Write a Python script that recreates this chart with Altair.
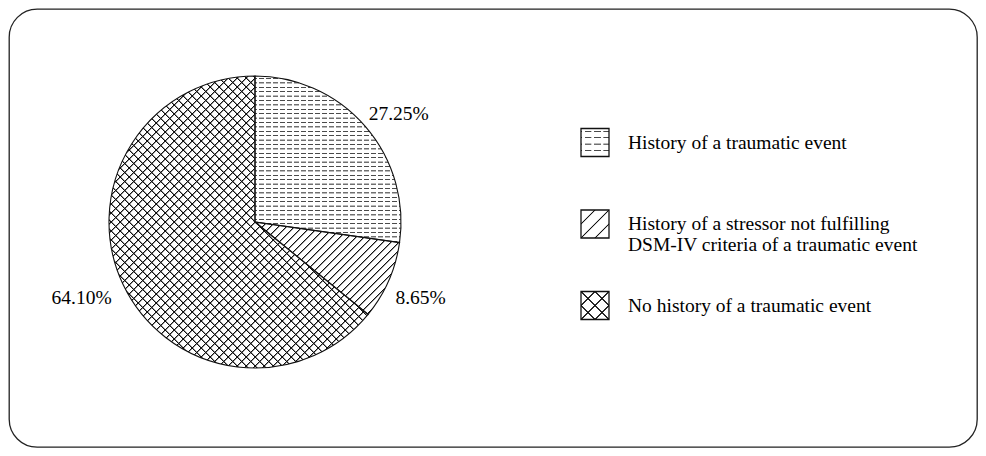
import math
import altair as alt
import pandas as pd

# ---------------- data ----------------
categories = [
    "History of a traumatic event",
    "History of a stressor not fulfilling\nDSM-IV criteria of a traumatic event",
    "No history of a traumatic event",
]
shares = [27.25, 8.65, 64.10]
share_labels = ["27.25%", "8.65%", "64.10%"]

data = pd.DataFrame({"category": categories, "share": shares, "label": share_labels})

# ---------------- layout / style ----------------
W, H = 968, 438
CX, CY, R = 246, 213, 146
LABEL_R = 183
LABEL_NUDGE = [(5.5, 11.5), (-2, 3), (-8, -2)]
SWATCH = 28
SW_X, TXT_X = 586, 619
ROW_RANGE = [133.5, 296.5]
FONT = "Liberation Serif"
FS = 19.5
INK = "#111111"
CLEAR = "rgba(0,0,0,0)"
WHITE = "#ffffff"
WHITE_CLEAR = "rgba(255,255,255,0)"
SQ2 = math.sqrt(2)


def stripe_stops(total, period, offset, width, color, clear, soft=0.5):
    stops = [(0.0, clear)]
    c = offset
    while c < total:
        a0 = c - width / 2 - soft
        b0 = c + width / 2 + soft
        if a0 >= 0 and b0 <= total:
            for p, col in ((a0, clear), (c - width / 2, color), (c + width / 2, color), (b0, clear)):
                stops.append((p / total, col))
        c += period
    stops.append((1.0, clear))
    return [{"offset": round(o, 5), "color": col} for o, col in stops]


def grad(x1, y1, x2, y2, stops):
    return {"gradient": "linear", "x1": x1, "y1": y1, "x2": x2, "y2": y2, "stops": stops}


def hlines(w, h, period, offset, width, color=INK, clear=CLEAR, soft=0.5):
    return grad(0, 0, 0, 1, stripe_stops(h, period, offset, width, color, clear, soft))


def vlines(w, h, period, offset, width, color=WHITE, clear=WHITE_CLEAR, soft=0.3):
    return grad(0, 0, 1, 0, stripe_stops(w, period, offset, width, color, clear, soft))


def slash(w, h, period, offset, width, color=INK, clear=CLEAR, soft=0.5):
    dx, dy = 1 / h, 1 / w
    k = (dx + dy) / (dx * dx + dy * dy)
    return grad(0, 0, k * dx, k * dy,
                stripe_stops((w + h) / SQ2, period, offset, width, color, clear, soft))


def backslash(w, h, period, offset, width, color=INK, clear=CLEAR, soft=0.5):
    dx, dy = 1 / h, -1 / w
    k = (dx - dy) / (dx * dx + dy * dy)
    return grad(0, 1, k * dx, 1 + k * dy,
                stripe_stops((w + h) / SQ2, period, offset, width, color, clear, soft))


def arc_bbox(a0, a1, r):
    pts = [(0.0, 0.0)]
    for a in [a0, a1] + [q for q in (90, 180, 270) if a0 < q < a1]:
        t = math.radians(a)
        pts.append((r * math.sin(t), -r * math.cos(t)))
    if a0 <= 0 or a1 >= 360:
        pts.append((0.0, -r))
    xs, ys = zip(*pts)
    return max(xs) - min(xs), max(ys) - min(ys)


total = sum(shares)
boxes = []
acc = 0.0
for s in shares:
    boxes.append(arc_bbox(acc / total * 360, (acc + s) / total * 360, R))
    acc += s

(wa, ha), (wb, hb), (wc, hc) = boxes

base = alt.Chart(data).transform_window(idx="row_number()")

pie_enc = dict(
    theta=alt.Theta("share:Q", stack=True),
    order=alt.Order("idx:Q"),
    x=alt.value(CX),
    y=alt.value(CY),
)


def pie_fill(i, g):
    return alt.when(alt.datum.idx == i).then(alt.value(g)).otherwise(alt.value("transparent"))


def pie_label(i, dx, dy):
    return base.mark_text(radius=LABEL_R, dx=dx, dy=dy, font=FONT, fontSize=FS,
                          align="center", baseline="middle", color="#000000").encode(
        text="label:N",
        opacity=alt.when(alt.datum.idx == i).then(alt.value(1)).otherwise(alt.value(0)),
        **pie_enc)


pie_layers = [
    base.mark_arc(radius=R).encode(fill=pie_fill(1, hlines(wa, ha, 4.4, 2.5, 0.5, color="#4a4a4a")), **pie_enc),
    base.mark_arc(radius=R).encode(fill=pie_fill(1, vlines(wa, ha, 7.0, 3.0, 2.2)), **pie_enc),
    base.mark_arc(radius=R).encode(fill=pie_fill(2, slash(wb, hb, 8 / SQ2, 3.0, 0.5)), **pie_enc),
    base.mark_arc(radius=R).encode(fill=pie_fill(3, slash(wc, hc, 9 / SQ2, 3.0, 0.5)), **pie_enc),
    base.mark_arc(radius=R).encode(fill=pie_fill(3, backslash(wc, hc, 9 / SQ2, 3.0, 0.5)), **pie_enc),
    base.mark_arc(radius=R, fillOpacity=0, stroke=INK, strokeWidth=1.1).encode(**pie_enc),
] + [pie_label(i + 1, dx, dy) for i, (dx, dy) in enumerate(LABEL_NUDGE)]

row_y = alt.Y("category:N", axis=None,
              scale=alt.Scale(type="point", domain=categories, range=ROW_RANGE, padding=0))
leg_enc = dict(x=alt.value(SW_X), y=row_y)
S = SWATCH
sq2 = (2 * S) / SQ2


def swatch(i, g):
    return base.transform_filter(alt.datum.idx == i).mark_square(
        size=S * S, opacity=1, fill=g, strokeWidth=0).encode(**leg_enc)


legend_layers = [
    swatch(1, hlines(S, S, 6.4, 2.8, 0.5, color="#4a4a4a")),
    swatch(1, vlines(S, S, 9.3, 2.5, 2.4)),
    swatch(2, slash(S, S, sq2 / 4, sq2 / 4, 0.6)),
    swatch(3, slash(S, S, sq2 / 4, sq2 / 4, 0.6)),
    swatch(3, backslash(S, S, sq2 / 4, sq2 / 4, 0.6)),
    base.mark_square(size=S * S, filled=False, opacity=1, stroke=INK,
                     strokeWidth=1.3).encode(**leg_enc),
    base.mark_text(align="left", baseline="middle", font=FONT, fontSize=FS,
                   lineHeight=21, lineBreak="\n", color="#000000").encode(
        x=alt.value(TXT_X), y=row_y, text="category:N"),
]

chart = alt.layer(*pie_layers, *legend_layers).properties(
    width=W, height=H, padding=1,
    autosize=alt.AutoSizeParams(type="none"),
    background="white",
).configure_view(stroke="#222222", strokeWidth=1.3, cornerRadius=28)

chart.save("out.html", embed_options={"renderer": "svg", "actions": False})
